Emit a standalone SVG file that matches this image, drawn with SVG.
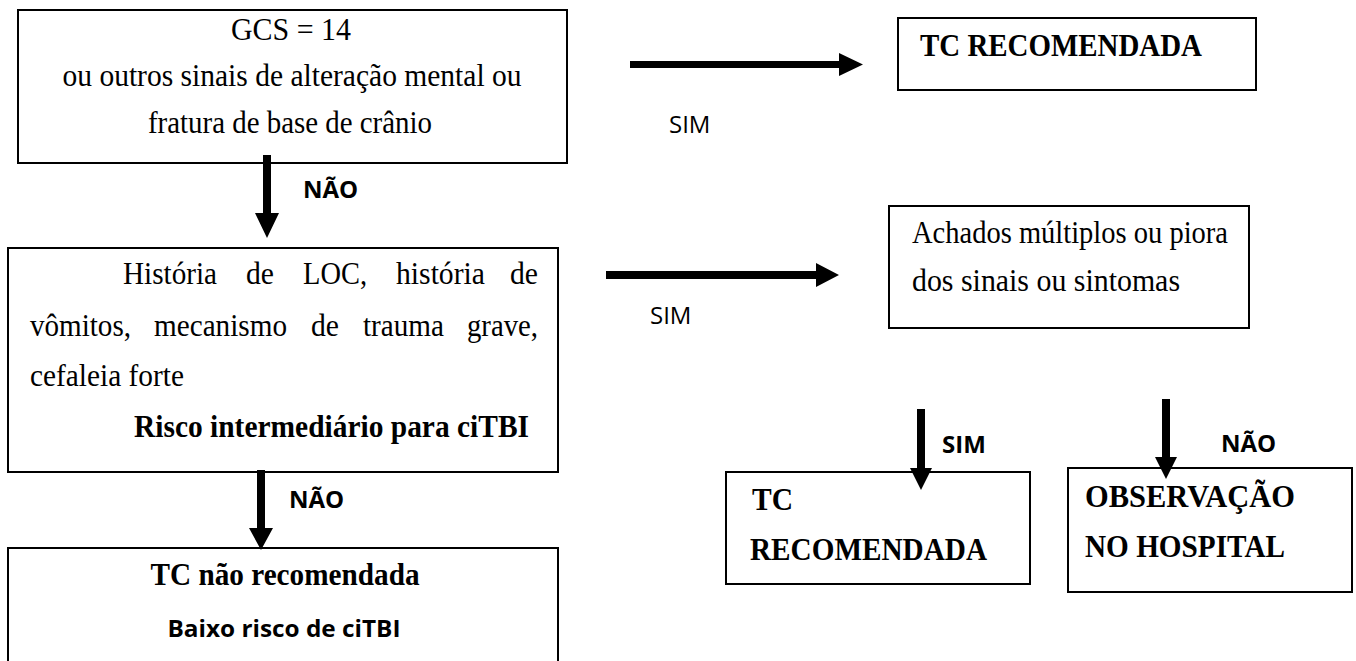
<svg xmlns="http://www.w3.org/2000/svg" width="1356" height="661" viewBox="0 0 1356 661">
<style>
.box{fill:#fff;stroke:#000;stroke-width:2}
.serif{font-family:"Liberation Serif","Times New Roman",serif;font-size:32px;fill:#000}
.b{font-weight:bold}
.sans{font-family:"Open Sans","Liberation Sans",sans-serif;font-size:24px;fill:#000}
.c{text-anchor:middle}
.arrow{fill:#000;stroke:none}
</style>
<rect width="1356" height="661" fill="#fff"/>
<g id="n1">
<rect class="box" x="18" y="10" width="549" height="153"/>
<text class="serif c" x="291" y="40" textLength="120" lengthAdjust="spacingAndGlyphs">GCS = 14</text>
<text class="serif c" x="292" y="86" textLength="459" lengthAdjust="spacingAndGlyphs">ou outros sinais de alteração mental ou</text>
<text class="serif c" x="290" y="133" textLength="284" lengthAdjust="spacingAndGlyphs">fratura de base de crânio</text>
</g>
<g id="n2">
<rect class="box" x="8" y="248" width="550" height="224"/>
<text class="serif" x="123" y="284" textLength="94" lengthAdjust="spacingAndGlyphs">História</text>
<text class="serif" x="246" y="284" textLength="28" lengthAdjust="spacingAndGlyphs">de</text>
<text class="serif" x="303" y="284" textLength="64" lengthAdjust="spacingAndGlyphs">LOC,</text>
<text class="serif" x="396" y="284" textLength="89" lengthAdjust="spacingAndGlyphs">história</text>
<text class="serif" x="510" y="284" textLength="28" lengthAdjust="spacingAndGlyphs">de</text>
<text class="serif" x="30" y="336" textLength="101" lengthAdjust="spacingAndGlyphs">vômitos,</text>
<text class="serif" x="154" y="336" textLength="133" lengthAdjust="spacingAndGlyphs">mecanismo</text>
<text class="serif" x="311" y="336" textLength="28" lengthAdjust="spacingAndGlyphs">de</text>
<text class="serif" x="363" y="336" textLength="81" lengthAdjust="spacingAndGlyphs">trauma</text>
<text class="serif" x="467" y="336" textLength="71" lengthAdjust="spacingAndGlyphs">grave,</text>
<text class="serif" x="30" y="386" textLength="154" lengthAdjust="spacingAndGlyphs">cefaleia forte</text>
<text class="serif b" x="134" y="437" textLength="395" lengthAdjust="spacingAndGlyphs">Risco intermediário para ciTBI</text>
</g>
<g id="n3">
<rect class="box" x="8" y="548" width="550" height="130"/>
<text class="serif b c" x="285" y="585" textLength="269" lengthAdjust="spacingAndGlyphs">TC não recomendada</text>
<text class="sans b c" x="284" y="637" textLength="233" lengthAdjust="spacingAndGlyphs">Baixo risco de ciTBI</text>
</g>
<g id="n4">
<rect class="box" x="898" y="18" width="358" height="72"/>
<text class="serif b" x="920" y="56" textLength="282" lengthAdjust="spacingAndGlyphs">TC RECOMENDADA</text>
</g>
<g id="n5">
<rect class="box" x="889" y="206" width="360" height="122"/>
<text class="serif" x="912" y="243" textLength="316" lengthAdjust="spacingAndGlyphs">Achados múltiplos ou piora</text>
<text class="serif" x="912" y="291" textLength="268" lengthAdjust="spacingAndGlyphs">dos sinais ou sintomas</text>
</g>
<g id="n6">
<rect class="box" x="726" y="472" width="304" height="112"/>
<text class="serif b" x="752" y="510" textLength="41" lengthAdjust="spacingAndGlyphs">TC</text>
<text class="serif b" x="750" y="560" textLength="237" lengthAdjust="spacingAndGlyphs">RECOMENDADA</text>
</g>
<g id="n7">
<rect class="box" x="1068" y="468" width="284" height="124"/>
<text class="serif b" x="1085" y="507" textLength="210" lengthAdjust="spacingAndGlyphs">OBSERVAÇÃO</text>
<text class="serif b" x="1085" y="557" textLength="200" lengthAdjust="spacingAndGlyphs">NO HOSPITAL</text>
</g>
<g id="connectors">
<polygon class="arrow" points="263,155 271,155 271,213 279,213 267,238 255,213 263,213"/>
<text class="sans b" x="303" y="198">NÃO</text>
<polygon class="arrow" points="257,470 265,470 265,528 273,528 261,550 249,528 257,528"/>
<text class="sans b" x="289" y="508">NÃO</text>
<polygon class="arrow" points="630,61 839,61 839,53 863,64.5 839,76 839,68 630,68"/>
<text class="sans" x="669" y="133">SIM</text>
<polygon class="arrow" points="606,271 816,271 816,263 839,275 816,287 816,279 606,279"/>
<text class="sans" x="650" y="324">SIM</text>
<polygon class="arrow" points="917,409 925,409 925,468 932,468 921,490 910,468 917,468"/>
<text class="sans b" x="942" y="453">SIM</text>
<polygon class="arrow" points="1162,399 1170,399 1170,457 1177,457 1166,479 1155,457 1162,457"/>
<text class="sans b" x="1221" y="452">NÃO</text>
</g>
</svg>
